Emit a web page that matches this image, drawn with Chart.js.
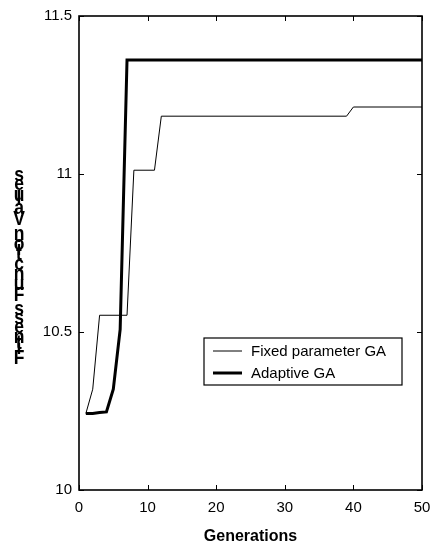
<!DOCTYPE html>
<html>
<head>
<meta charset="utf-8">
<script src="https://cdn.jsdelivr.net/npm/chart.js@4"></script>
<style>
  html, body { margin: 0; padding: 0; background: #fff; }
  canvas { display: block; }
</style>
</head>
<body>
<canvas id="chart" width="434" height="548"></canvas>
<script>
// values (only the points where the curves change)
const fixedGen = [1, 2, 3, 7, 8, 11, 12, 39, 40, 50];
const fixedVal = [10.242, 10.319, 10.553, 10.553, 11.012, 11.012, 11.183, 11.183, 11.212, 11.212];
const adaptiveGen = [1, 2, 3, 4, 5, 6, 7, 50];
const adaptiveVal = [10.242, 10.242, 10.245, 10.247, 10.319, 10.508, 11.361, 11.361];
const seriesNames = ["Fixed parameter GA", "Adaptive GA"];
const xTitle = "Generations";
const yTitle = "Fitness Function Values";

const FONT = "'Liberation Sans', Arial, sans-serif";

const toPoints = (xs, ys) => xs.map((x, i) => ({ x: x, y: ys[i] }));

// box round the plot with ticks pointing inwards on all four sides
const framePlugin = {
  id: "frame",
  afterDraw(chart) {
    const { ctx, chartArea: a, scales } = chart;
    ctx.save();
    ctx.strokeStyle = "#000";
    ctx.lineWidth = 1;
    scales.x.ticks.forEach((t) => {
      const px = Math.round(scales.x.getPixelForValue(t.value)) + 0.5;
      ctx.beginPath();
      ctx.moveTo(px, a.bottom); ctx.lineTo(px, a.bottom - 5);
      ctx.moveTo(px, a.top); ctx.lineTo(px, a.top + 5);
      ctx.stroke();
    });
    scales.y.ticks.forEach((t) => {
      const py = Math.round(scales.y.getPixelForValue(t.value)) + 0.5;
      ctx.beginPath();
      ctx.moveTo(a.left, py); ctx.lineTo(a.left + 5, py);
      ctx.moveTo(a.right, py); ctx.lineTo(a.right - 5, py);
      ctx.stroke();
    });
    ctx.lineWidth = 1.6;
    ctx.strokeRect(a.left, a.top, a.right - a.left, a.bottom - a.top);
    ctx.restore();
  },
};

// legend drawn inside the plot with a border
const boxLegendPlugin = {
  id: "boxLegend",
  afterDraw(chart, args, opts) {
    const ctx = chart.ctx;
    ctx.save();
    ctx.fillStyle = "#fff";
    ctx.fillRect(opts.x, opts.y, opts.w, opts.h);
    ctx.strokeStyle = "#000";
    ctx.lineWidth = 1.2;
    ctx.strokeRect(opts.x, opts.y, opts.w, opts.h);
    ctx.font = "15px " + FONT;
    ctx.textBaseline = "middle";
    ctx.fillStyle = "#000";
    chart.data.datasets.forEach((ds, i) => {
      const y = opts.y + 13 + i * 22;
      ctx.beginPath();
      ctx.lineWidth = ds.borderWidth;
      ctx.moveTo(opts.x + 9, y);
      ctx.lineTo(opts.x + 38, y);
      ctx.stroke();
      ctx.fillText(ds.label, opts.x + 47, y + 1);
    });
    ctx.restore();
  },
};

// y title: upright characters stacked from bottom to top
const yTitlePlugin = {
  id: "yTitle",
  afterDraw(chart, args, opts) {
    const ctx = chart.ctx;
    ctx.save();
    ctx.font = "bold 14px " + FONT;
    ctx.fillStyle = "#000";
    ctx.textAlign = "center";
    ctx.textBaseline = "alphabetic";
    for (let i = 0; i < opts.text.length; i++) {
      const ch = opts.text[i];
      if (ch === " ") continue;
      const adv = ctx.measureText(opts.text.slice(0, i)).width * 1.2;
      const y = opts.bottom - adv;
      ctx.save();
      ctx.translate(opts.x, y);
      ctx.scale(1.25, 1.5);
      ctx.fillText(ch, 0, 0);
      ctx.restore();
    }
    ctx.restore();
  },
};

new Chart(document.getElementById("chart").getContext("2d"), {
  type: "line",
  data: {
    datasets: [
      {
        label: seriesNames[0],
        data: toPoints(fixedGen, fixedVal),
        borderColor: "#000",
        borderWidth: 1,
        pointRadius: 0,
        tension: 0,
        fill: false,
      },
      {
        label: seriesNames[1],
        data: toPoints(adaptiveGen, adaptiveVal),
        borderColor: "#000",
        borderWidth: 3,
        pointRadius: 0,
        tension: 0,
        fill: false,
      },
    ],
  },
  options: {
    responsive: false,
    animation: false,
    devicePixelRatio: 1,
    layout: { padding: { top: 16, right: 12, left: 0, bottom: 0 } },
    plugins: {
      legend: { display: false },
      tooltip: { enabled: false },
      boxLegend: { x: 204, y: 338, w: 198, h: 47 },
      yTitle: { text: yTitle, x: 19, bottom: 364 },
    },
    scales: {
      x: {
        type: "linear",
        min: 0,
        max: 50,
        ticks: { stepSize: 10, color: "#000", padding: 9, font: { family: FONT, size: 15 } },
        grid: { display: false, drawTicks: false },
        border: { display: false },
        title: {
          display: true,
          text: xTitle,
          color: "#000",
          font: { family: FONT, size: 16, weight: "bold" },
          padding: { top: 0, bottom: 2 },
        },
        afterFit(s) { s.height = 58; s.paddingLeft = 0; s.paddingRight = 0; },
      },
      y: {
        type: "linear",
        min: 10,
        max: 11.5,
        ticks: {
          stepSize: 0.5,
          color: "#000",
          padding: 7,
          font: { family: FONT, size: 15 },
          callback: (v) => String(v),
        },
        grid: { display: false, drawTicks: false },
        border: { display: false },
        afterFit(s) { s.width = 79; s.paddingTop = 0; s.paddingBottom = 0; },
      },
    },
  },
  plugins: [framePlugin, boxLegendPlugin, yTitlePlugin],
});
</script>
</body>
</html>
